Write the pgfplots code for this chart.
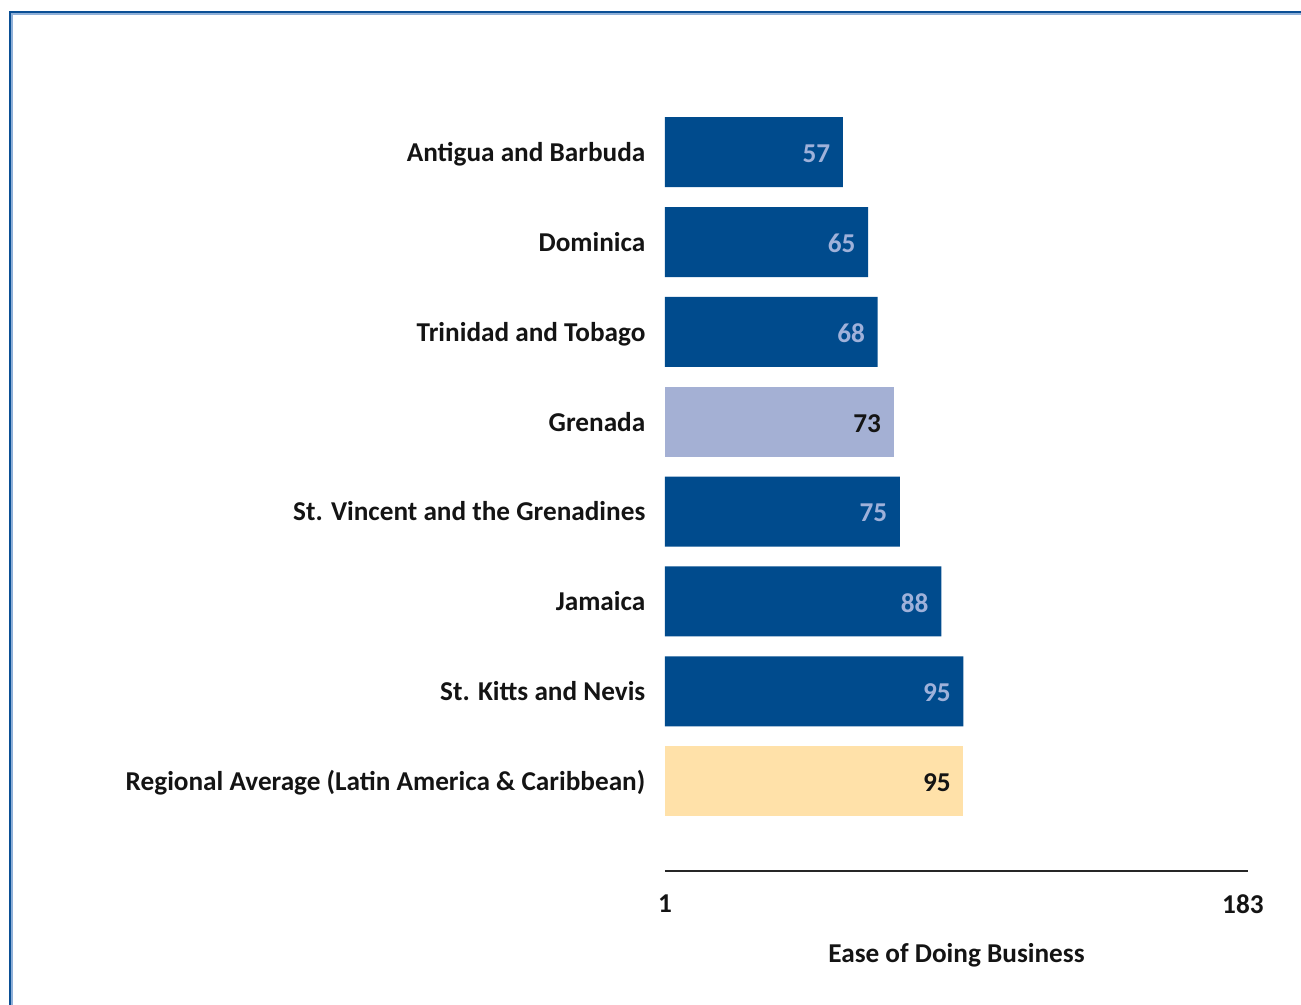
\documentclass[border=0pt]{standalone}
\usepackage{pgfplots}
\pgfplotsset{compat=1.18}
\usepackage{fontspec}
\setmainfont{Carlito}
\definecolor{barblue}{HTML}{004B8D}
\definecolor{barlight}{HTML}{A4B0D4}
\definecolor{baryellow}{HTML}{FFE1A9}
\definecolor{numblue}{HTML}{9FB1DA}
\definecolor{frameblue}{HTML}{0A4F95}
\definecolor{framelight}{HTML}{8FB0D8}
\definecolor{txt}{HTML}{141414}
\newcommand{\lf}{\fontsize{7.75}{9}\selectfont\bfseries}
\begin{document}
\begin{tikzpicture}
\useasboundingbox (0,0) rectangle (130.1mm,100.5mm);
\draw[framelight, line width=0.25mm] (1.2mm,-1mm) -- (1.2mm,99.1mm) -- (131mm,99.1mm);
\draw[frameblue, line width=0.2mm] (1.0mm,-1mm) -- (1.0mm,99.3mm) -- (131mm,99.3mm);
\begin{axis}[
  at={(66.5mm,13.4mm)}, anchor=south west,
  scale only axis,
  width=58.3mm, height=76.38mm,
  xmin=1, xmax=184.6,
  ymin=-1, ymax=7.5,
  axis x line*=bottom,
  axis y line*=left,
  y axis line style={draw=none},
  x axis line style={draw=black!85, line width=0.2mm, -},
  xtick={1,183},
  xticklabels={1,183},
  major tick length=0pt,
  xticklabel style={font=\lf, text=txt, anchor=center, yshift=-3.3mm, inner sep=0pt},
  /pgf/number format/assume math mode=true,
  ytick={0,1,2,3,4,5,6,7},
  yticklabels={Regional Average (Latin America \& Caribbean),St. Kitts and Nevis,Jamaica,St. Vincent and the Grenadines,Grenada,Trinidad and Tobago,Dominica,Antigua and Barbuda},
  yticklabel style={font=\lf, text=txt, anchor=east, xshift=-1.9mm, yshift=0.2mm, inner sep=0pt, text height=0.75em, text depth=0.1em},
  xlabel={Ease of Doing Business},
  xlabel style={font=\lf, text=txt, at={(axis description cs:0.5,0)}, anchor=center, yshift=-8.4mm},
  xbar, bar width=7mm, bar shift=0pt,
  nodes near coords,
  every node near coord/.append style={anchor=east, xshift=-1.2mm, yshift=-0.15mm, inner sep=0pt, font=\lf},
]
\addplot[fill=barblue, draw=none, every node near coord/.append style={text=numblue}] coordinates {(57,7) (65,6) (68,5) (75,3) (88,2) (95,1)};
\addplot[fill=barlight, draw=none, every node near coord/.append style={text=txt}] coordinates {(73,4)};
\addplot[fill=baryellow, draw=none, every node near coord/.append style={text=txt}] coordinates {(95,0)};
\end{axis}
\end{tikzpicture}
\end{document}
